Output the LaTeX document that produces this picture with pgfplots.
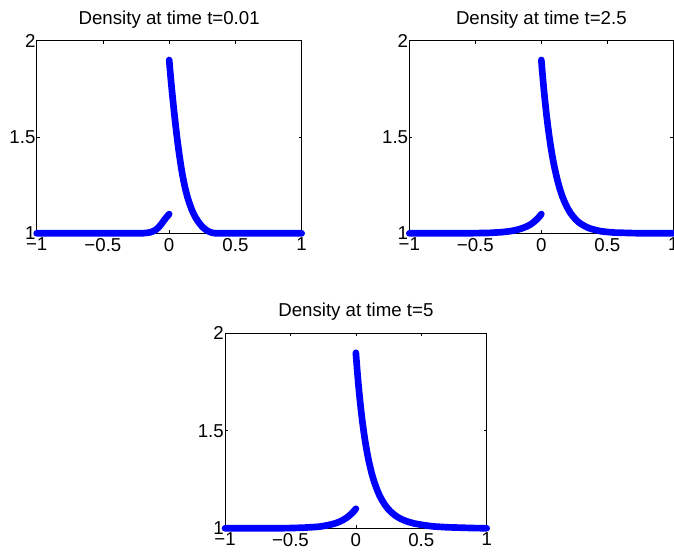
\documentclass[border=0pt]{standalone}
\usepackage{fontspec}
\setmainfont{Liberation Sans}
\usepackage{pgfplots}
\pgfplotsset{compat=1.18}
\definecolor{mblue}{RGB}{0,0,255}
\tikzset{dplot/.style={draw=mblue, mark=none, line width=5pt, line cap=round, line join=round}}
\pgfplotsset{dens/.style={scale only axis, xmin=-1, xmax=1, ymin=1, ymax=2,
  xtick={-1,-0.5,0,0.5,1}, xticklabels={−1,−0.5,0,0.5,1},
  ytick={1,1.5,2}, yticklabels={1,1.5,2},
  tick align=inside, major tick length=2.3pt, tick style={black, line width=0.5pt},
  axis line style={black, line width=0.6pt}, clip=false,
  ticklabel style={font=\fontsize{14}{16}\selectfont},
  yticklabel style={xshift=2.6pt},
  title style={font=\fontsize{14}{16}\selectfont}}}

\begin{document}
\begin{tikzpicture}
% t = 0.01
\begin{axis}[dens, at={(27.5pt,240.5pt)}, anchor=south west,
  width=198.75pt, height=144.45pt, title={Density at time t=0.01}]
  \addplot[dplot] coordinates {(-1,1.000) (-0.22,1.000) (-0.19,1.001) (-0.16,1.003) (-0.14,1.006)
    (-0.12,1.011) (-0.10,1.019) (-0.09,1.025) (-0.08,1.031) (-0.07,1.039) (-0.06,1.047)
    (-0.05,1.057) (-0.04,1.066) (-0.03,1.075) (-0.02,1.084) (-0.01,1.092) (0,1.100)};
  \addplot[dplot] coordinates {(0,1.900) (0.005,1.860) (0.01,1.821) (0.015,1.784) (0.02,1.748)
    (0.025,1.713) (0.03,1.679) (0.035,1.646) (0.04,1.614) (0.05,1.552) (0.06,1.494)
    (0.07,1.440) (0.08,1.391) (0.09,1.346) (0.10,1.305) (0.11,1.269) (0.12,1.237)
    (0.13,1.209) (0.14,1.184) (0.15,1.162) (0.16,1.142) (0.17,1.124) (0.18,1.108)
    (0.19,1.094) (0.20,1.081) (0.22,1.060) (0.24,1.042) (0.26,1.028) (0.28,1.017)
    (0.30,1.009) (0.32,1.004) (0.34,1.001) (0.36,1.000) (1,1.000)};
\end{axis}
% t = 2.5
\begin{axis}[dens, at={(307pt,240.5pt)}, anchor=south west,
  width=198pt, height=144.45pt, title={Density at time t=2.5}]
  \addplot[dplot] coordinates {(-1,1.000) (-0.6,1.000) (-0.5,1.001) (-0.40,1.002) (-0.35,1.004)
    (-0.30,1.006) (-0.26,1.009) (-0.22,1.013) (-0.18,1.019) (-0.15,1.025) (-0.12,1.033)
    (-0.10,1.039) (-0.08,1.047) (-0.06,1.057) (-0.05,1.063) (-0.04,1.069) (-0.03,1.076)
    (-0.02,1.083) (-0.01,1.091) (0,1.100)};
  \addplot[dplot] coordinates {(0,1.900) (0.005,1.857) (0.01,1.817) (0.015,1.778) (0.02,1.741)
    (0.03,1.673) (0.04,1.610) (0.05,1.554) (0.06,1.503) (0.07,1.456) (0.08,1.414)
    (0.09,1.376) (0.10,1.341) (0.12,1.281) (0.14,1.231) (0.16,1.190) (0.18,1.157)
    (0.20,1.129) (0.22,1.106) (0.24,1.088) (0.26,1.072) (0.28,1.059) (0.30,1.049)
    (0.33,1.037) (0.36,1.027) (0.40,1.019) (0.45,1.011) (0.50,1.007) (0.55,1.004)
    (0.60,1.003) (0.70,1.001) (0.80,1.000) (1,1.000)};
\end{axis}
% t = 5
\begin{axis}[dens, at={(168.75pt,19.3pt)}, anchor=south west,
  width=196.3pt, height=146.25pt, title={Density at time t=5}]
  \addplot[dplot] coordinates {(-1,1.000) (-0.6,1.000) (-0.5,1.001) (-0.40,1.003) (-0.35,1.005)
    (-0.30,1.007) (-0.26,1.010) (-0.22,1.015) (-0.18,1.021) (-0.15,1.027) (-0.12,1.035)
    (-0.10,1.042) (-0.08,1.050) (-0.06,1.059) (-0.05,1.065) (-0.04,1.071) (-0.03,1.077)
    (-0.02,1.084) (-0.01,1.092) (0,1.100)};
  \addplot[dplot] coordinates {(0,1.900) (0.005,1.855) (0.01,1.812) (0.015,1.772) (0.02,1.734)
    (0.03,1.664) (0.04,1.602) (0.05,1.546) (0.06,1.496) (0.07,1.451) (0.08,1.410)
    (0.09,1.374) (0.10,1.341) (0.12,1.284) (0.14,1.238) (0.16,1.201) (0.18,1.169)
    (0.20,1.144) (0.22,1.122) (0.24,1.104) (0.26,1.089) (0.28,1.077) (0.30,1.066)
    (0.33,1.053) (0.36,1.043) (0.40,1.033) (0.45,1.024) (0.50,1.018) (0.55,1.013)
    (0.60,1.009) (0.70,1.005) (0.80,1.003) (0.90,1.001) (1,1.000)};
\end{axis}
\pgfresetboundingbox
\path[use as bounding box] (0,0) rectangle (505.5pt,415.5pt);
\end{tikzpicture}
\end{document}
